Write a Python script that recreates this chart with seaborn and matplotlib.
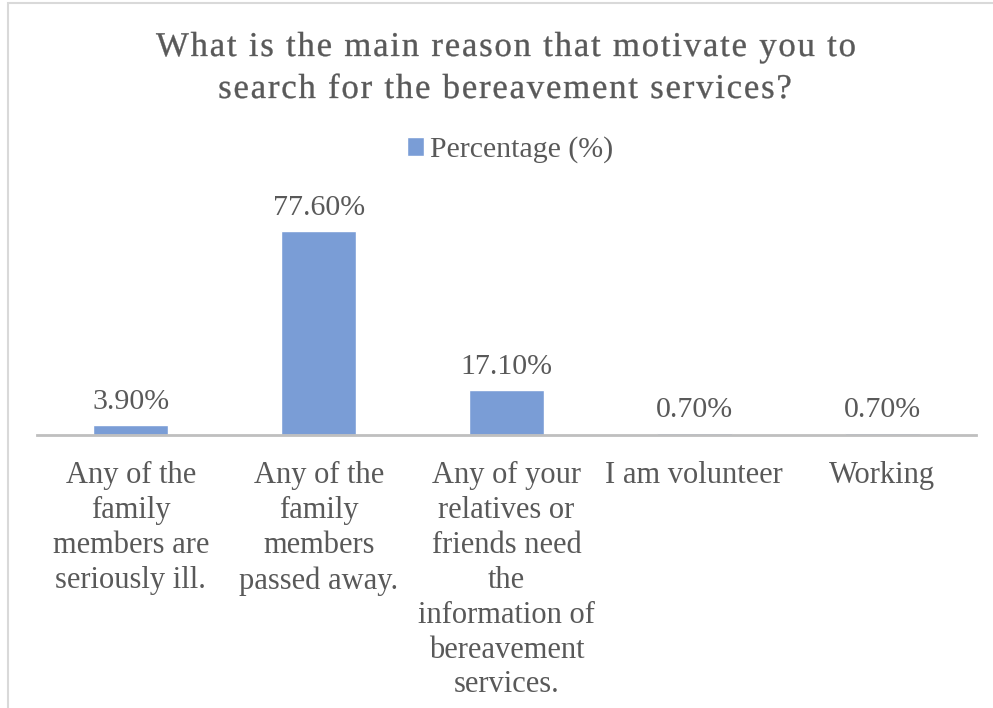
import matplotlib
matplotlib.use("Agg")
import matplotlib.pyplot as plt
import seaborn as sns
import pandas as pd
from matplotlib.patches import Rectangle, PathPatch
from matplotlib.textpath import TextPath
from matplotlib.transforms import Affine2D
from matplotlib.font_manager import FontProperties, findfont, get_font
from matplotlib.ft2font import LoadFlags

sns.set_theme(style="white")
plt.rcParams["font.family"] = ["Liberation Serif", "DejaVu Serif"]

categories = [
    "Any of the\nfamily\nmembers are\nseriously ill.",
    "Any of the\nfamily\nmembers\npassed away.",
    "Any of your\nrelatives or\nfriends need\nthe\ninformation of\nbereavement\nservices.",
    "I am volunteer",
    "Working",
]
percentages = [3.9, 77.6, 17.1, 0.7, 0.7]
value_labels = ["3.90%", "77.60%", "17.10%", "0.70%", "0.70%"]
series_name = "Percentage (%)"
title_lines = ["What is the main reason that motivate you to",
               "search for the bereavement services?"]

bar_color = "#7A9DD6"
text_color = "#595959"
axis_color = "#BFBFBF"

W, H, DPI = 993, 708, 100

df = pd.DataFrame({"reason": categories, "pct": percentages})

fig = plt.figure(figsize=(W / DPI, H / DPI), dpi=DPI)
ax = fig.add_axes([37 / W, (H - 435) / H, (976 - 37) / W, (435 - 198) / H])

sns.barplot(data=df, x="reason", y="pct", color=bar_color, width=0.4,
            saturation=1, ax=ax, label=series_name)

ax.set_ylim(0, 90)
ax.set_xlim(-0.5, len(categories) - 0.5)
ax.set_xlabel("")
ax.set_ylabel("")
ax.set_yticks([])
for side in ["top", "right", "left"]:
    ax.spines[side].set_visible(False)
ax.spines["bottom"].set_color(axis_color)
ax.spines["bottom"].set_linewidth(2)
ax.tick_params(axis="x", length=0, pad=19, labelsize=22, labelcolor=text_color)
for lbl in ax.get_xticklabels():
    lbl.set_linespacing(1.265)
    lbl.set_verticalalignment("top")

for patch, txt in zip(ax.patches, value_labels):
    ax.annotate(txt, (patch.get_x() + patch.get_width() / 2, patch.get_height()),
                xytext=(0, 7), textcoords="offset points", ha="center", va="bottom",
                fontsize=21.5, color=text_color)

leg = ax.legend(loc="center", bbox_to_anchor=(510 / W, 1 - 150 / H),
                bbox_transform=fig.transFigure, frameon=False, fontsize=21.5,
                handlelength=0.57, handleheight=0.57, handletextpad=0.2)
for t in leg.get_texts():
    t.set_color(text_color)


def spaced_text(line, cx, baseline_y, size_pt, spacing_pt, color):
    """Draw a centred line of text with extra tracking between characters."""
    fp = FontProperties(family="Liberation Serif", size=size_pt)
    font = get_font(findfont(fp))
    font.set_size(size_pt, 72)
    advances = [font.load_char(ord(c), flags=LoadFlags.NO_HINTING).linearHoriAdvance / 65536
                for c in line]
    total = sum(advances) + spacing_pt * (len(line) - 1)
    x = -total / 2
    scale = DPI / 72
    for c, adv in zip(line, advances):
        if c != " ":
            path = TextPath((x, 0), c, size=size_pt, prop=fp)
            tr = Affine2D().scale(scale).translate(cx, H - baseline_y)
            fig.patches.append(PathPatch(path, transform=tr, facecolor=color,
                                         edgecolor=color, lw=0.25))
        x += adv + spacing_pt


spaced_text(title_lines[0], 506, 56, 25, 1.29, text_color)
spaced_text(title_lines[1], 505, 98, 25, 1.29, text_color)

# chart-area frame
fig.patches.append(Rectangle((8 / W, -0.01), 1.2, 1 - 3 / H + 0.01,
                             transform=fig.transFigure, fill=False,
                             edgecolor="#D9D9D9", linewidth=1.5))

fig.savefig("out.png", dpi=DPI, facecolor="white")
